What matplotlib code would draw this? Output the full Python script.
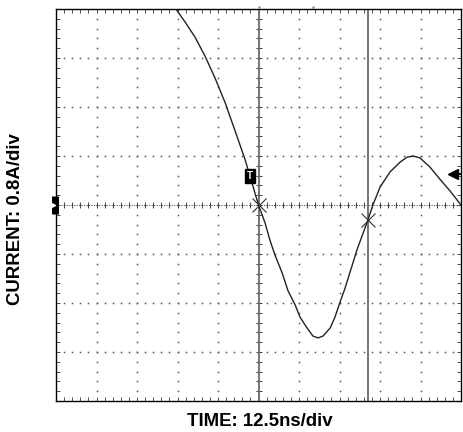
import numpy as np
import matplotlib
matplotlib.use("Agg")
import matplotlib.pyplot as plt
from matplotlib.transforms import offset_copy

plt.rcParams["font.family"] = ["Liberation Sans", "DejaVu Sans"]

# scope settings
ns_per_div = 12.5
amp_per_div = 0.8
n_xdiv = 10
n_ydiv = 8

# waveform (ns, A)
t_ns = [37.0, 39.8, 42.9, 46.0, 49.1, 52.2, 55.2, 58.3, 62.5,
        64.5, 66.0, 67.6, 69.8, 71.6, 73.8, 75.3, 77.5, 79.3, 80.9,
        82.4, 84.6, 86.1, 87.7, 89.2, 92.9, 96.3, 97.8, 100.0, 103.1,
        106.2, 108.3, 110.2, 112.3, 115.4, 118.5, 121.6, 125.0]
current_a = [3.20, 2.99, 2.74, 2.43, 2.07, 1.67, 1.22, 0.75, 0.0,
             -0.29, -0.57, -0.82, -1.11, -1.40, -1.63, -1.83, -2.01, -2.14, -2.17,
             -2.14, -2.01, -1.83, -1.58, -1.36, -0.73, -0.24, 0.0, 0.29, 0.54,
             0.70, 0.78, 0.80, 0.77, 0.62, 0.42, 0.23, 0.0]

# cursors / markers
cursor_t = [62.5, 96.3]
cursor_i = [0.0, -0.24]
trig_t, trig_i = 59.9, 0.47
trig_level = 0.51
pos_marks_t = [62.5, 79.3]

x_max = n_xdiv * ns_per_div
y_max = n_ydiv / 2 * amp_per_div

fig = plt.figure(figsize=(4.63, 4.32), dpi=100)
ax = fig.add_axes([0.121, 0.0718, 0.8747, 0.9074])
ax.set_xlim(0, x_max)
ax.set_ylim(-y_max, y_max)

xmaj = np.arange(0, x_max + 0.01, ns_per_div)
ymaj = np.arange(-y_max, y_max + 0.01, amp_per_div)
xmin = np.arange(0, x_max + 0.01, ns_per_div / 5)
ymin = np.arange(-y_max, y_max + 0.01, amp_per_div / 5)

# dotted graticule
for xv in xmaj[1:-1]:
    ax.plot(np.full_like(ymin, xv), ymin, ls="none", marker="s", ms=1.1,
            mec="none", mfc="#555555", zorder=1)
for yv in ymaj[1:-1]:
    ax.plot(xmin, np.full_like(xmin, yv), ls="none", marker="s", ms=1.1,
            mec="none", mfc="#555555", zorder=1)

# centre cross with minor ticks
ax.plot([0, x_max], [0, 0], color="#444444", lw=0.6, ls=(0, (1.5, 1.5)), zorder=1)
ax.plot(xmin, np.zeros_like(xmin), ls="none", marker="|", ms=5, mew=0.7,
        color="#444444", zorder=1)
ax.plot(np.full_like(ymin, x_max / 2), ymin, ls="none", marker="_", ms=5, mew=0.7,
        color="#444444", zorder=1)

# cursor lines
for ct in cursor_t:
    ax.axvline(ct, color="#6a6a6a", lw=1.3, zorder=2)

# waveform
ax.plot(t_ns, current_a, color="#222222", lw=1.0, zorder=3)

# cursor crossings
ax.plot(cursor_t, cursor_i, ls="none", marker="x", ms=9.5, mew=0.8,
        color="#333333", zorder=4)

# trigger mark
ax.text(trig_t, trig_i, "T", color="white", fontsize=7, fontweight="bold",
        ha="center", va="center", zorder=5,
        bbox=dict(boxstyle="square,pad=0.2", fc="black", ec="black"))

# trigger level arrow on right
ax.plot([x_max - 2.4, x_max], [trig_level, trig_level], color="black",
        lw=1.3, clip_on=False, zorder=5)
ax.plot([x_max - 2.4], [trig_level], marker="<", ms=6.5, color="black",
        mec="black", clip_on=False, zorder=5)

# channel ground marker on left edge
tr = offset_copy(ax.transData, fig=fig, x=-1.5, y=0, units="dots")
ax.plot([0], [0], marker="|", ms=13, mew=5, color="black", clip_on=False,
        zorder=5, transform=tr)
ax.plot([0], [0], marker=">", ms=3, color="white", clip_on=False,
        zorder=6, transform=offset_copy(ax.transData, fig=fig, x=-3, y=0, units="dots"))

# horizontal position marks above graticule
ax.plot(pos_marks_t, [y_max + 0.035] * 2, ls="none", marker="s", ms=1.5,
        mec="none", mfc="#777777", clip_on=False)

ax.set_xticks(xmaj)
ax.set_yticks(ymaj)
ax.set_xticks(xmin, minor=True)
ax.set_yticks(ymin, minor=True)
ax.tick_params(which="both", direction="in", length=3, width=0.6,
               top=True, right=True, labelbottom=False, labelleft=False,
               color="#333333")
for s in ax.spines.values():
    s.set_linewidth(1.0)
    s.set_color("black")

fig.text(0.561, 0.024, "TIME: 12.5ns/div", ha="center", va="center",
         fontsize=13.4, fontweight="bold")
fig.text(0.033, 0.493, "CURRENT: 0.8A/div", ha="center", va="center",
         rotation=90, fontsize=13.4, fontweight="bold")

fig.savefig("out.png", dpi=100)
